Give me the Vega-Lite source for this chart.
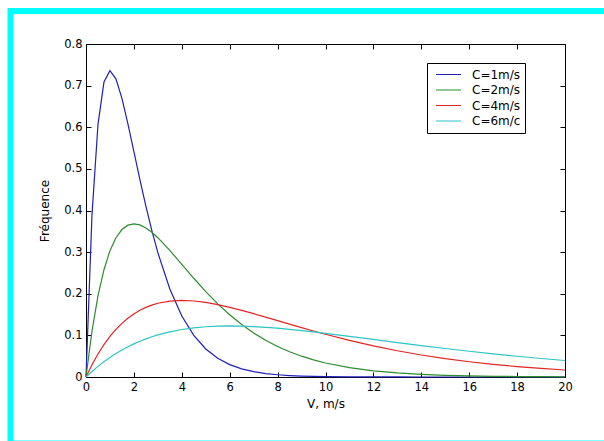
{
  "$schema": "https://vega.github.io/schema/vega-lite/v6.json",
  "width": 479,
  "height": 333,
  "autosize": {"type": "none"},
  "padding": {"left": 86, "top": 44, "right": 39, "bottom": 64},
  "background": "white",
  "config": {
    "view": {"stroke": null},
    "font": "DejaVu Sans",
    "axis": {
      "grid": false,
      "labelFlush": false,
      "domainColor": "black",
      "domainWidth": 1,
      "tickColor": "black",
      "tickWidth": 1,
      "labelColor": "black",
      "labelFont": "DejaVu Sans",
      "labelFontSize": 11.5,
      "titleFont": "DejaVu Sans",
      "titleFontSize": 12,
      "titleFontWeight": "normal",
      "titleColor": "black"
    }
  },
  "layer": [
    {
      "data": {"values": [{"frame": "border"}]},
      "mark": {"type": "rect", "fill": "transparent", "stroke": "#00FFFF", "strokeWidth": 6},
      "encoding": {
        "x": {"datum": -3.152, "type": "quantitative", "scale": {"domain": [0, 20], "nice": false},
              "axis": {"orient": "top", "values": [0, 2, 4, 6, 8, 10, 12, 14, 16, 18, 20], "labels": false, "tickSize": -5, "title": null}},
        "x2": {"datum": 24},
        "y": {"datum": 0.8793, "type": "quantitative", "scale": {"domain": [0, 0.8], "nice": false, "zero": false},
              "axis": {"orient": "right", "values": [0, 0.1, 0.2, 0.3, 0.4, 0.5, 0.6, 0.7, 0.8], "labels": false, "tickSize": -5, "title": null}},
        "y2": {"datum": -0.1598}
      }
    },
    {
      "data": {"values": [
        {"v": 0, "f": 0, "s": "C=1m/s"}, {"v": 0.25, "f": 0.3894, "s": "C=1m/s"}, {"v": 0.5, "f": 0.6065, "s": "C=1m/s"}, {"v": 0.75, "f": 0.7086, "s": "C=1m/s"}, {"v": 1, "f": 0.7358, "s": "C=1m/s"}, {"v": 1.25, "f": 0.7163, "s": "C=1m/s"}, {"v": 1.5, "f": 0.6694, "s": "C=1m/s"}, {"v": 1.75, "f": 0.6083, "s": "C=1m/s"}, {"v": 2, "f": 0.5413, "s": "C=1m/s"}, {"v": 2.25, "f": 0.4743, "s": "C=1m/s"}, {"v": 2.5, "f": 0.4104, "s": "C=1m/s"}, {"v": 2.75, "f": 0.3515, "s": "C=1m/s"}, {"v": 3, "f": 0.2987, "s": "C=1m/s"}, {"v": 3.5, "f": 0.2114, "s": "C=1m/s"}, {"v": 4, "f": 0.1465, "s": "C=1m/s"}, {"v": 4.5, "f": 0.0999, "s": "C=1m/s"}, {"v": 5, "f": 0.0674, "s": "C=1m/s"}, {"v": 5.5, "f": 0.045, "s": "C=1m/s"}, {"v": 6, "f": 0.0297, "s": "C=1m/s"}, {"v": 6.5, "f": 0.0195, "s": "C=1m/s"}, {"v": 7, "f": 0.0128, "s": "C=1m/s"}, {"v": 7.5, "f": 0.0083, "s": "C=1m/s"}, {"v": 8, "f": 0.0054, "s": "C=1m/s"}, {"v": 8.5, "f": 0.0035, "s": "C=1m/s"}, {"v": 9, "f": 0.0022, "s": "C=1m/s"}, {"v": 9.5, "f": 0.0014, "s": "C=1m/s"}, {"v": 10, "f": 0.0009, "s": "C=1m/s"}, {"v": 11, "f": 0.0004, "s": "C=1m/s"}, {"v": 12, "f": 0.0002, "s": "C=1m/s"}, {"v": 13, "f": 0.0001, "s": "C=1m/s"}, {"v": 14, "f": 0, "s": "C=1m/s"}, {"v": 15, "f": 0, "s": "C=1m/s"}, {"v": 16, "f": 0, "s": "C=1m/s"}, {"v": 17, "f": 0, "s": "C=1m/s"}, {"v": 18, "f": 0, "s": "C=1m/s"}, {"v": 19, "f": 0, "s": "C=1m/s"}, {"v": 20, "f": 0, "s": "C=1m/s"},
        {"v": 0, "f": 0, "s": "C=2m/s"}, {"v": 0.25, "f": 0.1103, "s": "C=2m/s"}, {"v": 0.5, "f": 0.1947, "s": "C=2m/s"}, {"v": 0.75, "f": 0.2577, "s": "C=2m/s"}, {"v": 1, "f": 0.3033, "s": "C=2m/s"}, {"v": 1.25, "f": 0.3346, "s": "C=2m/s"}, {"v": 1.5, "f": 0.3543, "s": "C=2m/s"}, {"v": 1.75, "f": 0.3648, "s": "C=2m/s"}, {"v": 2, "f": 0.3679, "s": "C=2m/s"}, {"v": 2.25, "f": 0.3653, "s": "C=2m/s"}, {"v": 2.5, "f": 0.3581, "s": "C=2m/s"}, {"v": 2.75, "f": 0.3476, "s": "C=2m/s"}, {"v": 3, "f": 0.3347, "s": "C=2m/s"}, {"v": 3.5, "f": 0.3041, "s": "C=2m/s"}, {"v": 4, "f": 0.2707, "s": "C=2m/s"}, {"v": 4.5, "f": 0.2372, "s": "C=2m/s"}, {"v": 5, "f": 0.2052, "s": "C=2m/s"}, {"v": 5.5, "f": 0.1757, "s": "C=2m/s"}, {"v": 6, "f": 0.1494, "s": "C=2m/s"}, {"v": 6.5, "f": 0.1261, "s": "C=2m/s"}, {"v": 7, "f": 0.1057, "s": "C=2m/s"}, {"v": 7.5, "f": 0.0882, "s": "C=2m/s"}, {"v": 8, "f": 0.0733, "s": "C=2m/s"}, {"v": 8.5, "f": 0.0606, "s": "C=2m/s"}, {"v": 9, "f": 0.05, "s": "C=2m/s"}, {"v": 9.5, "f": 0.0411, "s": "C=2m/s"}, {"v": 10, "f": 0.0337, "s": "C=2m/s"}, {"v": 11, "f": 0.0225, "s": "C=2m/s"}, {"v": 12, "f": 0.0149, "s": "C=2m/s"}, {"v": 13, "f": 0.0098, "s": "C=2m/s"}, {"v": 14, "f": 0.0064, "s": "C=2m/s"}, {"v": 15, "f": 0.0041, "s": "C=2m/s"}, {"v": 16, "f": 0.0027, "s": "C=2m/s"}, {"v": 17, "f": 0.0017, "s": "C=2m/s"}, {"v": 18, "f": 0.0011, "s": "C=2m/s"}, {"v": 19, "f": 0.0007, "s": "C=2m/s"}, {"v": 20, "f": 0.0005, "s": "C=2m/s"},
        {"v": 0, "f": 0, "s": "C=4m/s"}, {"v": 0.25, "f": 0.0294, "s": "C=4m/s"}, {"v": 0.5, "f": 0.0552, "s": "C=4m/s"}, {"v": 0.75, "f": 0.0777, "s": "C=4m/s"}, {"v": 1, "f": 0.0974, "s": "C=4m/s"}, {"v": 1.25, "f": 0.1143, "s": "C=4m/s"}, {"v": 1.5, "f": 0.1289, "s": "C=4m/s"}, {"v": 1.75, "f": 0.1412, "s": "C=4m/s"}, {"v": 2, "f": 0.1516, "s": "C=4m/s"}, {"v": 2.25, "f": 0.1603, "s": "C=4m/s"}, {"v": 2.5, "f": 0.1673, "s": "C=4m/s"}, {"v": 2.75, "f": 0.1728, "s": "C=4m/s"}, {"v": 3, "f": 0.1772, "s": "C=4m/s"}, {"v": 3.5, "f": 0.1824, "s": "C=4m/s"}, {"v": 4, "f": 0.1839, "s": "C=4m/s"}, {"v": 4.5, "f": 0.1826, "s": "C=4m/s"}, {"v": 5, "f": 0.1791, "s": "C=4m/s"}, {"v": 5.5, "f": 0.1738, "s": "C=4m/s"}, {"v": 6, "f": 0.1673, "s": "C=4m/s"}, {"v": 6.5, "f": 0.16, "s": "C=4m/s"}, {"v": 7, "f": 0.1521, "s": "C=4m/s"}, {"v": 7.5, "f": 0.1438, "s": "C=4m/s"}, {"v": 8, "f": 0.1353, "s": "C=4m/s"}, {"v": 8.5, "f": 0.1269, "s": "C=4m/s"}, {"v": 9, "f": 0.1186, "s": "C=4m/s"}, {"v": 9.5, "f": 0.1104, "s": "C=4m/s"}, {"v": 10, "f": 0.1026, "s": "C=4m/s"}, {"v": 11, "f": 0.0879, "s": "C=4m/s"}, {"v": 12, "f": 0.0747, "s": "C=4m/s"}, {"v": 13, "f": 0.0631, "s": "C=4m/s"}, {"v": 14, "f": 0.0529, "s": "C=4m/s"}, {"v": 15, "f": 0.0441, "s": "C=4m/s"}, {"v": 16, "f": 0.0366, "s": "C=4m/s"}, {"v": 17, "f": 0.0303, "s": "C=4m/s"}, {"v": 18, "f": 0.025, "s": "C=4m/s"}, {"v": 19, "f": 0.0205, "s": "C=4m/s"}, {"v": 20, "f": 0.0168, "s": "C=4m/s"},
        {"v": 0, "f": 0, "s": "C=6m/c"}, {"v": 0.25, "f": 0.0133, "s": "C=6m/c"}, {"v": 0.5, "f": 0.0256, "s": "C=6m/c"}, {"v": 0.75, "f": 0.0368, "s": "C=6m/c"}, {"v": 1, "f": 0.047, "s": "C=6m/c"}, {"v": 1.25, "f": 0.0564, "s": "C=6m/c"}, {"v": 1.5, "f": 0.0649, "s": "C=6m/c"}, {"v": 1.75, "f": 0.0726, "s": "C=6m/c"}, {"v": 2, "f": 0.0796, "s": "C=6m/c"}, {"v": 2.25, "f": 0.0859, "s": "C=6m/c"}, {"v": 2.5, "f": 0.0916, "s": "C=6m/c"}, {"v": 2.75, "f": 0.0966, "s": "C=6m/c"}, {"v": 3, "f": 0.1011, "s": "C=6m/c"}, {"v": 3.5, "f": 0.1085, "s": "C=6m/c"}, {"v": 4, "f": 0.1141, "s": "C=6m/c"}, {"v": 4.5, "f": 0.1181, "s": "C=6m/c"}, {"v": 5, "f": 0.1207, "s": "C=6m/c"}, {"v": 5.5, "f": 0.1222, "s": "C=6m/c"}, {"v": 6, "f": 0.1226, "s": "C=6m/c"}, {"v": 6.5, "f": 0.1222, "s": "C=6m/c"}, {"v": 7, "f": 0.1211, "s": "C=6m/c"}, {"v": 7.5, "f": 0.1194, "s": "C=6m/c"}, {"v": 8, "f": 0.1172, "s": "C=6m/c"}, {"v": 8.5, "f": 0.1145, "s": "C=6m/c"}, {"v": 9, "f": 0.1116, "s": "C=6m/c"}, {"v": 9.5, "f": 0.1083, "s": "C=6m/c"}, {"v": 10, "f": 0.1049, "s": "C=6m/c"}, {"v": 11, "f": 0.0977, "s": "C=6m/c"}, {"v": 12, "f": 0.0902, "s": "C=6m/c"}, {"v": 13, "f": 0.0828, "s": "C=6m/c"}, {"v": 14, "f": 0.0754, "s": "C=6m/c"}, {"v": 15, "f": 0.0684, "s": "C=6m/c"}, {"v": 16, "f": 0.0618, "s": "C=6m/c"}, {"v": 17, "f": 0.0555, "s": "C=6m/c"}, {"v": 18, "f": 0.0498, "s": "C=6m/c"}, {"v": 19, "f": 0.0444, "s": "C=6m/c"}, {"v": 20, "f": 0.0397, "s": "C=6m/c"}
      ]},
      "mark": {"type": "line", "strokeWidth": 1.2},
      "encoding": {
        "x": {"field": "v", "type": "quantitative", "scale": {"domain": [0, 20], "nice": false},
              "axis": {"orient": "bottom", "values": [0, 2, 4, 6, 8, 10, 12, 14, 16, 18, 20], "format": "d", "tickSize": -5, "labelPadding": 9, "title": "V, m/s", "titlePadding": 6}},
        "y": {"field": "f", "type": "quantitative", "scale": {"domain": [0, 0.8], "nice": false, "zero": false},
              "axis": {"orient": "left", "values": [0, 0.1, 0.2, 0.3, 0.4, 0.5, 0.6, 0.7, 0.8], "format": ".1~f", "tickSize": -5, "labelPadding": 9, "title": "Fréquence", "titlePadding": 12}},
        "color": {"field": "s", "type": "nominal",
                  "scale": {"domain": ["C=1m/s", "C=2m/s", "C=4m/s", "C=6m/c"], "range": ["#2020B8", "#2E8B2E", "#E02525", "#2EC4C4"]},
                  "legend": {"orient": "none", "legendX": 341, "legendY": 19, "title": null, "symbolType": "stroke", "symbolSize": 625, "symbolStrokeWidth": 1.2, "symbolOffset": 4, "labelOffset": 10, "labelFont": "DejaVu Sans", "labelFontSize": 12, "labelColor": "black", "strokeColor": "black", "fillColor": "white", "padding": 4, "clipHeight": 15, "rowPadding": 0.5}}
      }
    }
  ],
  "resolve": {"axis": {"x": "independent", "y": "independent"}}
}
